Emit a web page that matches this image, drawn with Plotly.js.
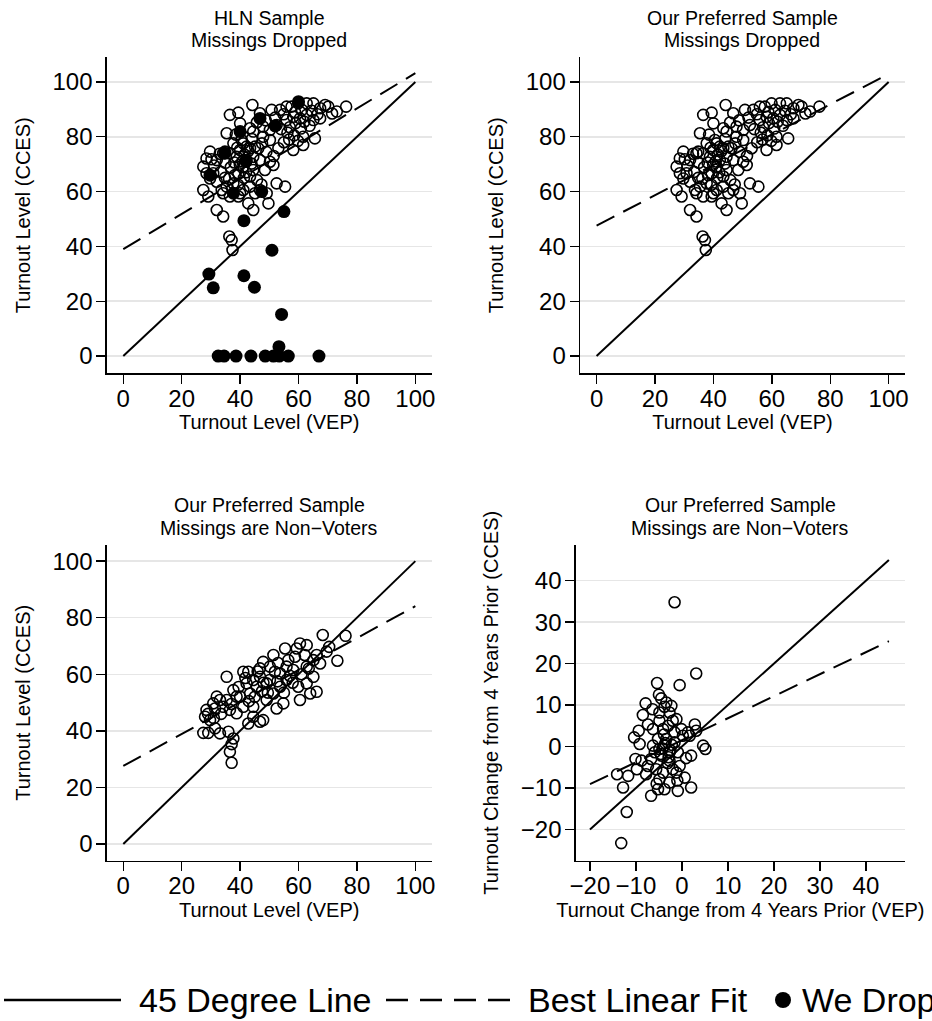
<!DOCTYPE html>
<html>
<head>
<meta charset="utf-8">
<script src="https://cdn.plot.ly/plotly-3.0.1.min.js"></script>
<style>html,body{margin:0;padding:0;background:#fff;}#chart{width:932px;height:1021px;}</style>
</head>
<body>
<div id="chart"></div>
<script>
// ---------- DATA ----------
// Panel 2 (Our Preferred Sample, Missings Dropped): VEP turnout vs CCES turnout
const pref_vep = [44.2,76.3,73.1,70.2,69.1,67.4,65.1,62.8,59.9,57.6,55.9,53.7,50.8,46.8,36.5,39.4,40.0,43.4,44.5,35.4,47.9,50.2,52.5,55.9,58.2,60.5,62.8,65.1,67.4,65.6,61.6,58.2,61.6,53.1,50.2,47.9,46.2,43.4,41.1,40.0,38.8,36.5,34.8,29.7,28.5,27.4,28.5,29.7,32.0,33.7,34.2,36.5,39.4,41.1,43.4,45.1,46.8,49.1,49.7,44.5,42.8,40.0,39.4,41.1,42.2,44.5,46.8,48.5,50.2,51.4,52.5,55.4,27.4,29.1,32.0,34.2,36.3,37.1,37.4,44.5,43.4,37.7,35.4,30.8,32.0,34.2,37.7,40.5,42.2,45.1,41.5,42.8,40.8,39.9,42.0,43.9,41.3,38.2,36.8,35.0,33.4,31.1,30.2,33.0,38.0,39.3,36.2,34.8,45.8,47.3,57.0,59.0,60.8,62.0,63.8,56.2,54.0,58.5,59.8,56.8,64.5,61.2,58.8,54.9,52.0,48.8,45.7,66.5,71.5,47.5,49.0,51.5,55.0,44.0,38.5,39.0];
const pref_cces = [91.6,91.0,89.2,91.0,91.6,90.4,92.2,92.2,92.2,91.0,91.0,89.8,89.8,88.6,88.0,88.8,84.9,83.1,81.9,81.3,83.7,82.5,84.3,86.1,87.3,86.7,88.0,86.1,86.7,79.4,77.0,75.2,80.0,75.8,78.8,80.0,75.8,75.8,77.6,75.2,72.7,74.0,74.6,74.6,72.1,69.1,66.7,64.8,63.6,60.6,59.4,58.2,58.2,60.6,61.8,59.4,60.6,59.4,55.7,53.3,55.7,59.4,66.7,69.1,71.5,72.7,71.5,67.9,70.9,69.7,63.0,61.8,60.6,58.2,53.3,50.9,43.6,42.3,38.7,67.9,65.5,63.0,61.8,66.7,71.5,74.0,77.6,78.8,76.4,76.4,73.5,74.8,71.0,69.8,67.0,70.2,65.0,66.0,68.9,70.5,67.2,69.5,71.8,73.8,70.6,62.5,64.7,65.0,64.2,62.6,83.5,85.0,83.0,85.5,84.0,81.5,82.8,80.5,78.5,79.0,89.5,89.8,89.0,88.2,87.0,86.0,85.2,88.2,88.5,77.6,74.5,73.0,78.0,79.2,80.8,76.0];

// Panel 1 (HLN Sample): observations HLN keep (open) and that we drop (filled)
const hln_keep_vep = pref_vep;
const hln_keep_cces = pref_cces;
const hln_drop_vep = [55.0,41.3,50.9,29.3,41.3,30.8,44.9,54.2,53.3,32.5,34.5,38.6,43.7,48.6,51.4,53.4,56.5,67.0,60.0,40.0,34.8,46.8,47.4,37.7,29.7,42.0,52.0];
const hln_drop_cces = [52.7,49.4,38.6,29.9,29.3,24.9,25.1,15.2,3.4,0,0,0,0,0,0,0,0,0,92.8,81.9,74.0,86.7,60.0,59.4,66.0,71.0,84.0];

// Panel 3 (Missings are Non-Voters)
const nv_vep = [68.3,76.1,70.5,73.3,69.6,60.5,62.8,55.4,51.4,47.9,66.2,67.4,65.1,66.2,60.5,59.9,62.8,58.2,55.9,53.7,50.2,46.8,45.7,42.2,41.1,35.4,37.7,40.0,35.4,32.0,30.8,28.5,28.0,29.7,27.4,29.1,31.4,33.1,36.0,37.7,37.1,36.5,37.1,38.8,41.1,44.5,42.8,46.8,47.9,44.5,49.1,52.5,54.8,51.4,53.7,49.1,43.4,38.8,62.8,64.0,58.8,59.4,55.9,51.9,44.5,42.8,46.8,50.2,33.1,34.2,36.5,31.4,65.1,62.1,45.0,47.5,52.8,57.0,55.0,48.0,43.0,39.5,41.8,46.0,58.0,61.0,63.5,56.5,53.0,49.5,37.0,33.5,29.0,31.0];
const nv_cces = [73.9,73.6,69.7,64.8,68.0,70.9,70.3,69.1,66.8,64.4,66.8,63.8,59.1,53.8,50.9,55.6,62.7,61.5,58.0,60.3,58.0,59.1,55.6,56.8,60.9,59.1,54.4,52.1,50.9,52.1,49.7,47.4,45.0,43.8,39.3,39.3,40.9,39.1,39.7,37.3,35.3,32.6,28.7,46.2,48.5,48.5,42.6,43.2,43.8,45.0,50.9,47.9,49.7,53.2,55.6,56.8,53.2,52.1,56.8,53.2,66.2,69.1,62.7,60.9,58.0,60.9,62.1,62.7,50.9,48.5,47.4,47.9,65.0,66.8,52.0,54.0,57.5,59.5,53.5,57.0,50.5,55.5,58.7,61.0,57.0,60.0,62.0,65.0,64.0,53.5,49.5,46.0,46.0,44.5];

// Panel 4 (change from 4 years prior)
const chg_vep = [-1.6,3.1,-5.4,-0.5,-5.0,-4.5,-3.4,-2.3,-7.9,-8.5,-6.4,-4.9,-1.2,-2.0,-9.4,-10.4,-9.2,-7.4,-6.3,-4.1,-0.1,2.8,3.1,1.7,4.6,5.1,2.0,-10.1,-8.8,-9.8,-14.1,-11.7,-12.8,-12.0,-13.2,-6.7,-5.2,-3.8,-0.9,2.0,0.6,-1.2,-7.8,-7.4,-5.6,-4.9,-2.7,-5.9,-4.9,-3.8,-2.7,-1.6,-0.9,-3.4,-4.5,-2.7,-0.5,-2.0,-4.1,0.2,1.3,-1.6,-5.2,-6.3,-6.7,-2.7,-3.0,-4.9,-3.8,-4.2,-3.6,-2.9,-4.6,-3.1,-2.2,-5.5,-1.0,0.9,-3.9,-2.5];
const chg_cces = [34.8,17.6,15.3,14.8,12.5,11.6,10.6,9.8,10.4,7.6,9.0,8.2,6.6,6.2,3.8,2.2,0.6,5.3,4.2,4.2,4.2,5.3,3.8,2.6,0.2,-0.6,-2.2,-3.0,-3.4,-5.5,-6.7,-7.1,-9.9,-15.8,-23.3,-11.9,-10.3,-10.3,-10.7,-9.9,-7.5,-6.3,-6.7,-4.7,-5.5,-7.9,-8.7,-1.4,-0.6,0.2,-1.4,1.0,-1.4,1.8,-2.2,-3.4,-4.7,-5.5,-6.3,2.6,3.4,3.4,1.8,0.2,-3.0,8.2,5.0,6.2,9.6,-0.5,0.8,-2.6,-1.8,-4.0,0.4,-9.0,-8.2,-2.8,2.9,-0.9];

// Reference lines
const level45 = [0, 100];
const change45 = [-20, 45];
const fitX = [0, 100];
const fit_hln = [39.0, 103.2];
const fit_pref = [47.6, 102.9];
const fit_nv = [27.6, 84.1];
const fit_chg = [-9.1, 25.4];

const panelTitles = [
  ["HLN Sample", "Missings Dropped"],
  ["Our Preferred Sample", "Missings Dropped"],
  ["Our Preferred Sample", "Missings are Non\u2212Voters"],
  ["Our Preferred Sample", "Missings are Non\u2212Voters"]
];
const legendLabels = ["45 Degree Line", "Best Linear Fit", "We Drop"];

// ---------- LAYOUT HELPERS ----------
const W = 932, H = 1021;
const FONT = "'Liberation Sans', Arial, Helvetica, sans-serif";
const px = v => v / W;
const py = v => 1 - v / H;

function xa(d0, d1, range, title, anchor) {
  return {
    domain: [px(d0), px(d1)], range: range, anchor: anchor,
    tickmode: 'linear', tick0: 0, dtick: 10 * (range[1] - range[0] > 90 ? 2 : 1),
    showline: true, linecolor: '#000', linewidth: 1.4,
    ticks: 'outside', ticklen: 9, tickwidth: 1.4, tickcolor: '#000',
    ticklabelstandoff: -6,
    zeroline: false, showgrid: false, fixedrange: true,
    tickfont: {size: 24, color: '#000', family: FONT},
    title: {text: title, font: {size: 20, color: '#000', family: FONT}, standoff: 4}
  };
}
function ya(d0, d1, range, title, anchor) {
  return {
    domain: [py(d1), py(d0)], range: range, anchor: anchor,
    tickmode: 'linear', tick0: 0, dtick: 10 * (range[1] - range[0] > 90 ? 2 : 1),
    showline: true, linecolor: '#000', linewidth: 1.4,
    ticks: 'outside', ticklen: 9, tickwidth: 1.4, tickcolor: '#000',
    ticklabelstandoff: -1,
    zeroline: false, showgrid: true, gridcolor: '#e6e6e6', gridwidth: 1.5, fixedrange: true,
    tickfont: {size: 24, color: '#000', family: FONT},
    title: {text: title, font: {size: 20, color: '#000', family: FONT}, standoff: 16}
  };
}

const openMarker = {symbol: 'circle-open', size: 11, color: '#000', line: {width: 1.6, color: '#000'}};
const fillMarker = {symbol: 'circle', size: 13, color: '#000'};
const solid = {color: '#000', width: 2};
const dashed = {color: '#000', width: 2, dash: '20px,10px'};

const traces = [
  // Panel 1
  {x: hln_keep_vep, y: hln_keep_cces, xaxis: 'x', yaxis: 'y', mode: 'markers', marker: openMarker, type: 'scatter'},
  {x: hln_drop_vep, y: hln_drop_cces, xaxis: 'x', yaxis: 'y', mode: 'markers', marker: fillMarker, type: 'scatter', name: legendLabels[2]},
  {x: level45, y: level45, xaxis: 'x', yaxis: 'y', mode: 'lines', line: solid, type: 'scatter', name: legendLabels[0]},
  {x: fitX, y: fit_hln, xaxis: 'x', yaxis: 'y', mode: 'lines', line: dashed, type: 'scatter', name: legendLabels[1]},
  // Panel 2
  {x: pref_vep, y: pref_cces, xaxis: 'x2', yaxis: 'y2', mode: 'markers', marker: openMarker, type: 'scatter'},
  {x: level45, y: level45, xaxis: 'x2', yaxis: 'y2', mode: 'lines', line: solid, type: 'scatter'},
  {x: fitX, y: fit_pref, xaxis: 'x2', yaxis: 'y2', mode: 'lines', line: dashed, type: 'scatter'},
  // Panel 3
  {x: nv_vep, y: nv_cces, xaxis: 'x3', yaxis: 'y3', mode: 'markers', marker: openMarker, type: 'scatter'},
  {x: level45, y: level45, xaxis: 'x3', yaxis: 'y3', mode: 'lines', line: solid, type: 'scatter'},
  {x: fitX, y: fit_nv, xaxis: 'x3', yaxis: 'y3', mode: 'lines', line: dashed, type: 'scatter'},
  // Panel 4
  {x: chg_vep, y: chg_cces, xaxis: 'x4', yaxis: 'y4', mode: 'markers', marker: openMarker, type: 'scatter'},
  {x: change45, y: change45, xaxis: 'x4', yaxis: 'y4', mode: 'lines', line: solid, type: 'scatter'},
  {x: change45, y: fit_chg, xaxis: 'x4', yaxis: 'y4', mode: 'lines', line: dashed, type: 'scatter'}
];

// panel titles (two lines each, tight Stata spacing)
const titlePos = [[269, 18, 40], [742, 18, 40], [269, 505, 528], [740, 505, 528]];
const annotations = [];
panelTitles.forEach((t, i) => {
  const [cx, y1, y2] = titlePos[i];
  [t[0], t[1]].forEach((txt, j) => {
    annotations.push({text: txt, xref: 'paper', yref: 'paper', x: px(cx), y: py(j ? y2 : y1),
      xanchor: 'center', yanchor: 'middle', showarrow: false,
      font: {size: 19.5, color: '#000', family: FONT}});
  });
});

// legend (manual, Stata style, running off the right edge)
const LY = 1000;
annotations.push({text: legendLabels[0], xref: 'paper', yref: 'paper', x: px(137), y: py(LY), xanchor: 'left', yanchor: 'middle', showarrow: false, font: {size: 34, color: '#000', family: FONT}});
annotations.push({text: legendLabels[1], xref: 'paper', yref: 'paper', x: px(526), y: py(LY), xanchor: 'left', yanchor: 'middle', showarrow: false, font: {size: 34, color: '#000', family: FONT}});
annotations.push({text: legendLabels[2], xref: 'paper', yref: 'paper', x: px(800), y: py(LY), xanchor: 'left', yanchor: 'middle', showarrow: false, font: {size: 34, color: '#000', family: FONT}});

const shapes = [
  {type: 'line', xref: 'paper', yref: 'paper', x0: px(4), x1: px(121), y0: py(LY), y1: py(LY), line: {color: '#000', width: 2.5}},
  {type: 'line', xref: 'paper', yref: 'paper', x0: px(386), x1: px(511), y0: py(LY), y1: py(LY), line: {color: '#000', width: 2.5, dash: '22px,12px'}},
  {type: 'circle', xref: 'paper', yref: 'paper', x0: px(775), x1: px(791), y0: py(LY + 8), y1: py(LY - 8), fillcolor: '#000', line: {color: '#000', width: 0}}
];

const layout = {
  width: W, height: H,
  margin: {l: 0, r: 0, t: 0, b: 0},
  paper_bgcolor: '#fff', plot_bgcolor: '#fff',
  showlegend: false,
  font: {family: FONT, color: '#000'},
  xaxis: xa(106.7, 431.7, [-5.68, 105.6], 'Turnout Level (VEP)', 'y'),
  yaxis: ya(57.3, 373.3, [-6.3, 109.0], 'Turnout Level (CCES)', 'x'),
  xaxis2: xa(580, 905, [-5.68, 105.6], 'Turnout Level (VEP)', 'y2'),
  yaxis2: ya(57.3, 373.3, [-6.3, 109.0], 'Turnout Level (CCES)', 'x2'),
  xaxis3: xa(106.7, 431.7, [-5.68, 105.6], 'Turnout Level (VEP)', 'y3'),
  yaxis3: ya(545, 860.7, [-5.9, 105.7], 'Turnout Level (CCES)', 'x3'),
  xaxis4: xa(575.7, 905, [-23.1, 48.5], 'Turnout Change from 4 Years Prior (VEP)', 'y4'),
  yaxis4: ya(545, 860.5, [-27.5, 48.6], 'Turnout Change from 4 Years Prior (CCES)', 'x4'),
  annotations: annotations,
  shapes: shapes
};

Plotly.newPlot('chart', traces, layout, {staticPlot: true, displayModeBar: false});
</script>
</body>
</html>
